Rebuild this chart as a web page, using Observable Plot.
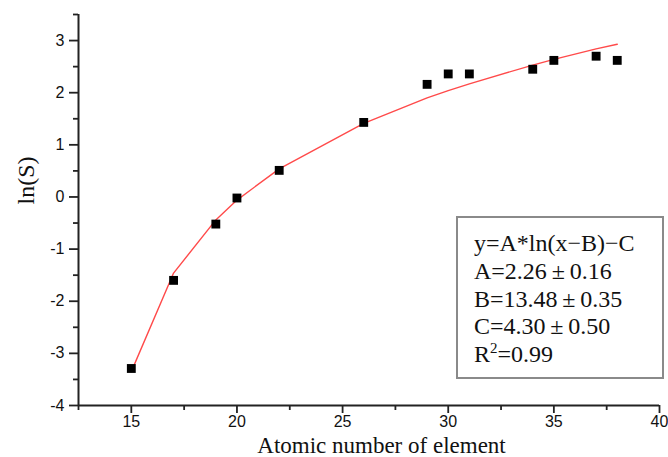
<!DOCTYPE html>
<html>
<head>
<meta charset="utf-8">
<script src="https://cdn.jsdelivr.net/npm/d3@7"></script>
<script src="https://cdn.jsdelivr.net/npm/@observablehq/plot@0.6"></script>
<style>
  html, body { margin: 0; padding: 0; background: #fff; }
  #wrap { position: relative; width: 668px; height: 457px; }
  #legend {
    position: absolute; left: 456px; top: 216px; width: 204px; height: 159px;
    border: 2px solid #8a8a8a; box-sizing: content-box;
    font-family: "Liberation Serif", "Times New Roman", serif; font-size: 24px;
    line-height: 27.8px; color: #111; padding: 0;
  }
  #legend .in { position: absolute; left: 16px; top: 12px; white-space: nowrap; }
  #legend sup { font-size: 15px; vertical-align: 0; position: relative; top: -9px; }
</style>
</head>
<body>
<div id="wrap"></div>
<script>
// Data
const atomicNumber = [15, 17, 19, 20, 22, 26, 29, 30, 31, 34, 35, 37, 38];
const lnS          = [-3.29, -1.60, -0.52, -0.02, 0.51, 1.43, 2.16, 2.36, 2.36, 2.45, 2.62, 2.70, 2.62];
// Fitted curve values (red line) at the same x positions
const fitLnS       = [-3.35, -1.46, -0.44, -0.06, 0.54, 1.41, 1.90, 2.04, 2.17, 2.53, 2.64, 2.84, 2.93];

const xDomain = [12.5, 40];
const yDomain = [-4, 3.5];
const xMajor = [15, 20, 25, 30, 35, 40];
const xMinor = [12.5, 17.5, 22.5, 27.5, 32.5, 37.5];
const yMajor = [-4, -3, -2, -1, 0, 1, 2, 3];
const yMinor = [-3.5, -2.5, -1.5, -0.5, 0.5, 1.5, 2.5, 3.5];

const xLabel = "Atomic number of element";
const yLabel = "ln(S)";
const legendLines = [
  "y=A*ln(x\u2212B)\u2212C",
  "A=2.26\u2009\u00b1\u20090.16",
  "B=13.48\u2009\u00b1\u20090.35",
  "C=4.30\u2009\u00b1\u20090.50",
  "R<sup>2</sup>=0.99"
];

const points = atomicNumber.map((x, i) => ({x, y: lnS[i]}));
const fit = atomicNumber.map((x, i) => ({x, y: fitLnS[i]}));

const sans = "'Liberation Sans', Arial, sans-serif";
const serif = "'Liberation Serif', 'Times New Roman', serif";

const chart = Plot.plot({
  width: 668,
  height: 457,
  marginLeft: 78,
  marginRight: 9,
  marginTop: 14,
  marginBottom: 52,
  style: {fontSize: "16px", fontFamily: sans, color: "#111", background: "#fff"},
  x: {domain: xDomain},
  y: {domain: yDomain},
  marks: [
    Plot.axisY({ticks: yMajor, tickSize: 9, tickPadding: 5, tickFormat: d => d, label: null, stroke: "#222", strokeWidth: 1.8}),
    Plot.axisY({ticks: yMinor, tickSize: 5, text: null, label: null, stroke: "#222", strokeWidth: 1.8}),
    Plot.axisX({ticks: xMajor, tickSize: 8, tickPadding: 2, label: null, stroke: "#222", strokeWidth: 1.8}),
    Plot.axisX({ticks: xMinor, tickSize: 5, text: null, label: null, stroke: "#222", strokeWidth: 1.8}),
    Plot.ruleX([xDomain[0]], {stroke: "#222", strokeWidth: 2}),
    Plot.ruleY([yDomain[0]], {stroke: "#222", strokeWidth: 2}),
    Plot.line(fit, {x: "x", y: "y", stroke: "#ff4a4a", strokeWidth: 1.4}),
    Plot.dot(points, {x: "x", y: "y", symbol: "square", r: 5, fill: "#000", stroke: "none"}),
    Plot.text([xLabel], {frameAnchor: "bottom", lineAnchor: "bottom", dx: 12.5, dy: 47, fontFamily: serif, fontSize: 23, fill: "#111"}),
    Plot.text([yLabel], {frameAnchor: "left", dx: -52, dy: -5.5, rotate: -90, fontFamily: serif, fontSize: 24, fill: "#111"})
  ]
});

const wrap = document.getElementById("wrap");
wrap.appendChild(chart);
const legend = document.createElement("div");
legend.id = "legend";
legend.innerHTML = `<div class="in">${legendLines.join("<br>")}</div>`;
wrap.appendChild(legend);
</script>
</body>
</html>
